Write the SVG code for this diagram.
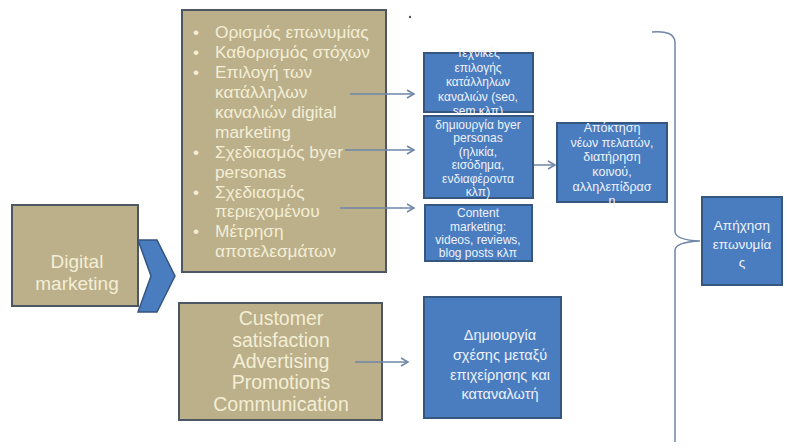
<svg xmlns="http://www.w3.org/2000/svg" width="787" height="448" viewBox="0 0 787 448">
<defs>
<style>
.tan{fill:#bbb08a;stroke:#4d5663;stroke-width:2}
.blue{fill:#4a7cc0;stroke:#35567f;stroke-width:2}
.tt{font-family:"Liberation Sans",Arial,sans-serif;fill:#f4eed6}
.bt{font-family:"Liberation Sans",Arial,sans-serif;fill:#eef3fa;text-anchor:middle}
.conn{stroke:#6f86a8;stroke-width:1.5;fill:none}
</style>
<marker id="ah" markerWidth="10" markerHeight="10" refX="8" refY="5" orient="auto" markerUnits="userSpaceOnUse">
<path d="M1,1 L8,5 L1,9" fill="none" stroke="#6f86a8" stroke-width="1.5"/>
</marker>
</defs>
<rect width="787" height="448" fill="#ffffff"/>

<g id="digital">
<rect class="tan" x="12" y="205" width="126" height="101"/>
<text class="tt" font-size="19" text-anchor="middle" x="77" y="268">Digital</text>
<text class="tt" font-size="19" text-anchor="middle" x="77" y="290">marketing</text>
</g>

<g id="chevron">
<polygon points="138,240 157,240 175,276 157,312 138,312 151,276" fill="#4a7cc0" stroke="#35567f" stroke-width="1.5"/>
</g>

<g id="tasks">
<rect class="tan" x="182" y="10" width="204" height="262"/>
<g class="tt" font-size="17.3">
<text x="193" y="38">•</text><text x="215" y="38">Ορισμός επωνυμίας</text>
<text x="193" y="58">•</text><text x="215" y="58">Καθορισμός στόχων</text>
<text x="193" y="78">•</text><text x="215" y="78">Επιλογή των</text>
<text x="215" y="98">κατάλληλων</text>
<text x="215" y="118">καναλιών digital</text>
<text x="215" y="138">marketing</text>
<text x="193" y="158">•</text><text x="215" y="158">Σχεδιασμός byer</text>
<text x="215" y="178">personas</text>
<text x="193" y="198">•</text><text x="215" y="198">Σχεδιασμός</text>
<text x="215" y="217">περιεχομένου</text>
<text x="193" y="237">•</text><text x="215" y="237">Μέτρηση</text>
<text x="215" y="257">αποτελεσμάτων</text>
</g>
</g>
<circle cx="410" cy="17" r="1.2" fill="#555"/>

<g id="techniques">
<rect class="blue" x="424" y="53" width="109" height="59"/>
<g class="bt" font-size="12">
<text x="478" y="57">Τεχνικές</text>
<text x="478" y="72">επιλογής</text>
<text x="478" y="86">κατάλληλων</text>
<text x="478" y="101">καναλιών (seo,</text>
<text x="478" y="115">sem κλπ)</text>
</g>
</g>

<g id="personas">
<rect class="blue" x="424" y="116" width="109" height="82"/>
<g class="bt" font-size="12">
<text x="478" y="129">δημιουργία byer</text>
<text x="478" y="142">personas</text>
<text x="478" y="156">(ηλικία,</text>
<text x="478" y="169">εισόδημα,</text>
<text x="478" y="183">ενδιαφέροντα</text>
<text x="478" y="196">κλπ)</text>
</g>
</g>

<g id="content">
<rect class="blue" x="425" y="205" width="107" height="56"/>
<g class="bt" font-size="12">
<text x="478" y="217">Content</text>
<text x="478" y="231">marketing:</text>
<text x="478" y="244">videos, reviews,</text>
<text x="478" y="257">blog posts κλπ</text>
</g>
</g>

<g id="acquisition">
<rect class="blue" x="557" y="123" width="110" height="79"/>
<g class="bt" font-size="12.5">
<text x="612" y="132">Απόκτηση</text>
<text x="612" y="147">νέων πελατών,</text>
<text x="612" y="161">διατήρηση</text>
<text x="612" y="176">κοινού,</text>
<text x="612" y="191">αλληλεπίδρασ</text>
<text x="612" y="205">η</text>
</g>
</g>

<g id="echo">
<rect class="blue" x="702" y="197" width="80" height="88"/>
<g class="bt" font-size="13.5">
<text x="742" y="230">Απήχηση</text>
<text x="742" y="249">επωνυμία</text>
<text x="742" y="267">ς</text>
</g>
</g>

<g id="tools">
<rect class="tan" x="179" y="303" width="203" height="117"/>
<g class="tt" font-size="19.5" text-anchor="middle">
<text x="281" y="325">Customer</text>
<text x="281" y="347">satisfaction</text>
<text x="281" y="368">Advertising</text>
<text x="281" y="389">Promotions</text>
<text x="281" y="411">Communication</text>
</g>
</g>

<g id="relation">
<rect class="blue" x="424" y="297" width="137" height="121"/>
<g class="bt" font-size="14.5">
<text x="500" y="340">Δημιουργία</text>
<text x="500" y="360">σχέσης μεταξύ</text>
<text x="500" y="380">επιχείρησης και</text>
<text x="500" y="399">καταναλωτή</text>
</g>
</g>

<g id="connectors">
<line class="conn" x1="350" y1="94" x2="414" y2="94" marker-end="url(#ah)"/>
<line class="conn" x1="345" y1="150" x2="414" y2="150" marker-end="url(#ah)"/>
<line class="conn" x1="340" y1="208" x2="414" y2="208" marker-end="url(#ah)"/>
<line class="conn" x1="534" y1="165" x2="555" y2="165" marker-end="url(#ah)"/>
<line class="conn" x1="355" y1="362" x2="408" y2="362" marker-end="url(#ah)"/>
<path class="conn" stroke="#8d9bb3" d="M652,32 Q674,30 675,42 L675,232 Q676,240 700,241 Q676,242 675,250 L675,442"/>
</g>
</svg>
